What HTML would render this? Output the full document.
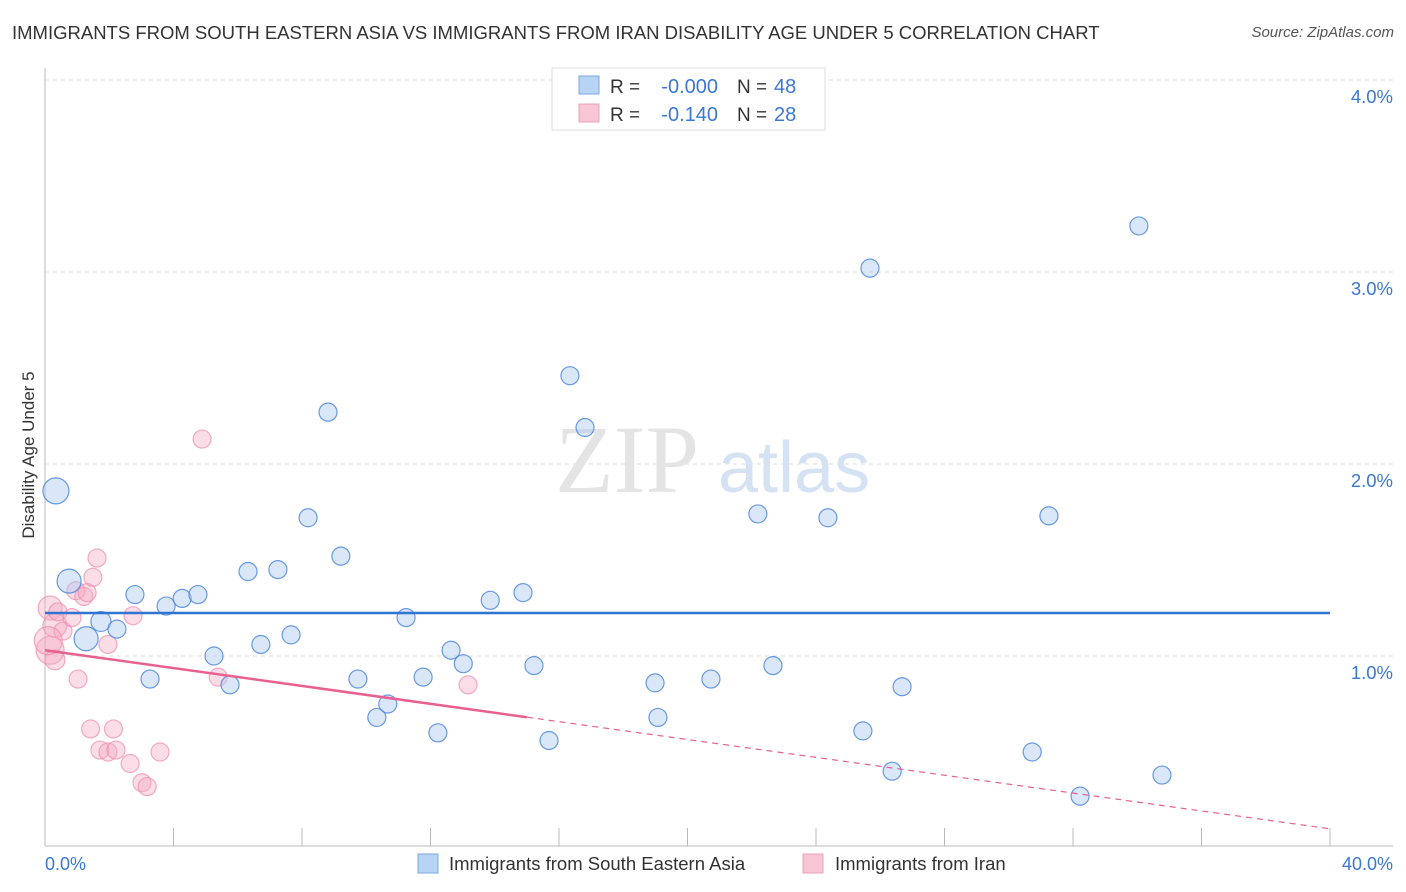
<!DOCTYPE html>
<html><head><meta charset="utf-8">
<style>
body{margin:0;background:#fff;font-family:"Liberation Sans",sans-serif;}
#wrap{position:relative;width:1406px;height:892px;overflow:hidden;}
.title{position:absolute;left:12px;top:22px;font-size:18.5px;color:#333;white-space:nowrap;}
.source{position:absolute;right:12px;top:24px;font-size:15px;color:#555;font-style:italic;}
</style></head><body>
<div id="wrap">
<div class="title">IMMIGRANTS FROM SOUTH EASTERN ASIA VS IMMIGRANTS FROM IRAN DISABILITY AGE UNDER 5 CORRELATION CHART</div>
<div class="source">Source: ZipAtlas.com</div>
<svg id="svg" width="1406" height="892" style="position:absolute;left:0;top:0">
<g id="grid"></g>
<text x="555" y="492" font-size="96" font-family="Liberation Serif" fill="#e4e4e4">ZIP</text>
<text x="718" y="492" font-size="72" fill="#d4e2f4">atlas</text>
<g id="pts"></g>
<g id="lines"></g>
<text transform="translate(34,455) rotate(-90)" text-anchor="middle" font-size="17" fill="#333">Disability Age Under 5</text>
<text x="45" y="870" font-size="18" fill="#3a78d4">0.0%</text>
<text x="1393" y="870" font-size="18" fill="#3a78d4" text-anchor="end">40.0%</text>
<g>
<rect x="552" y="68" width="273" height="62" fill="#fff" stroke="#ddd"/>
<rect x="579" y="76" width="20" height="18" fill="#b8d4f4" stroke="#7aa8e0"/>
<rect x="579" y="104" width="20" height="18" fill="#f8c6d4" stroke="#eea0b8"/>
<text x="610" y="93" font-size="19" fill="#333">R =</text>
<text x="718" y="93" font-size="20" fill="#3a78d4" text-anchor="end">-0.000</text>
<text x="737" y="93" font-size="19" fill="#333">N =</text>
<text x="774" y="93" font-size="20" fill="#3a78d4">48</text>
<text x="610" y="121" font-size="19" fill="#333">R =</text>
<text x="718" y="121" font-size="20" fill="#3a78d4" text-anchor="end">-0.140</text>
<text x="737" y="121" font-size="19" fill="#333">N =</text>
<text x="774" y="121" font-size="20" fill="#3a78d4">28</text>
</g>
<g>
<rect x="418" y="854" width="20" height="19" fill="#b8d4f4" stroke="#7aa8e0"/>
<text x="449" y="870" font-size="18.5" fill="#333">Immigrants from South Eastern Asia</text>
<rect x="803" y="854" width="20" height="19" fill="#f8c6d4" stroke="#eea0b8"/>
<text x="835" y="870" font-size="18.5" fill="#333">Immigrants from Iran</text>
</g>
</svg>
</div>
<script>
const yTicks=[1,2,3,4];
const yTickLabels=["1.0%","2.0%","3.0%","4.0%"];
const xTicks=[0,4,8,12,16,20,24,28,32,36,40];
const blueX=[0.34,0.75,1.74,1.28,2.24,2.80,3.77,4.27,4.76,3.27,5.26,5.76,6.32,6.72,7.25,7.66,8.19,8.81,9.21,9.74,10.33,10.67,11.24,11.77,12.23,12.64,13.02,13.86,14.88,15.22,15.69,16.34,16.81,18.99,19.08,20.73,22.19,22.66,24.37,25.46,25.68,26.37,26.68,30.73,31.25,32.22,34.05,34.77];
const blueY=[1.86,1.39,1.18,1.09,1.14,1.32,1.26,1.30,1.32,0.88,1.00,0.85,1.44,1.06,1.45,1.11,1.72,2.27,1.52,0.88,0.68,0.75,1.20,0.89,0.60,1.03,0.96,1.29,1.33,0.95,0.56,2.46,2.19,0.86,0.68,0.88,1.74,0.95,1.72,0.61,3.02,0.40,0.84,0.50,1.73,0.27,3.24,0.38];
const blueR=[13,12,10,12,9,9,9,9,9,9,9,9,9,9,9,9,9,9,9,9,9,9,9,9,9,9,9,9,9,9,9,9,9,9,9,9,9,9,9,9,9,9,9,9,9,9,9,9];
const pinkX=[0.16,0.31,0.16,0.31,0.40,0.56,0.84,0.96,1.21,1.31,1.49,1.62,1.96,1.03,2.74,4.89,5.39,13.17,1.42,2.13,1.71,1.96,2.21,2.65,3.02,3.18,3.58,0.10];
const pinkY=[1.25,1.16,1.03,0.98,1.23,1.13,1.20,1.34,1.31,1.33,1.41,1.51,1.06,0.88,1.21,2.13,0.89,0.85,0.62,0.62,0.51,0.50,0.51,0.44,0.34,0.32,0.50,1.08];
const pinkR=[12,12,14,10,9,9,9,9,9,9,9,9,9,9,9,9,9,9,9,9,9,9,9,9,9,9,9,14];
const blueTrend=[1.224,1.224];
const pinkTrend=[1.03,0.10];
const NS="http://www.w3.org/2000/svg";
const X=v=>45+v/40*1285, Y=v=>848-v*192;
function mk(tag,attrs,parent){const e=document.createElementNS(NS,tag);for(const k in attrs)e.setAttribute(k,attrs[k]);parent.appendChild(e);return e;}
const grid=document.getElementById('grid');
yTicks.forEach((t,i)=>{
 const l=mk('line',{x1:45,x2:1393,y1:Y(t),y2:Y(t),stroke:'#ddd','stroke-dasharray':'4,4'},grid);
 
 
 const tx=mk('text',{x:1393,y:Y(t)+23,'font-size':18.5,fill:'#3a78d4','text-anchor':'end'},grid);
 tx.textContent=yTickLabels[i];
 
 
});
const ax=mk('line',{x1:45,x2:45,y1:68,y2:846,stroke:'#bbb'},grid);


const bx=mk('line',{x1:45,x2:1393,y1:846,y2:846,stroke:'#bbb'},grid);


xTicks.forEach(t=>{
 const l=mk('line',{x1:X(t),x2:X(t),y1:828,y2:846,stroke:'#bbb'},grid);
 
 
});
const pts=document.getElementById('pts');
pinkX.forEach((v,i)=>{
 const c=mk('circle',{cx:X(v),cy:Y(pinkY[i]),r:pinkR[i],fill:'rgba(244,170,194,0.4)',stroke:'rgba(236,140,172,0.7)','stroke-width':1.2},pts);
 
 
});
blueX.forEach((v,i)=>{
 const c=mk('circle',{cx:X(v),cy:Y(blueY[i]),r:blueR[i],fill:'rgba(170,202,240,0.45)',stroke:'rgba(70,130,220,0.8)','stroke-width':1.2},pts);
 
 
});
const lines=document.getElementById('lines');
const bl=mk('line',{x1:X(0),x2:X(40),y1:Y(blueTrend[0]),y2:Y(blueTrend[1]),stroke:'#2f74d0','stroke-width':2.5},lines);


const py=x=>pinkTrend[0]+(pinkTrend[1]-pinkTrend[0])*x/40;
const ps=mk('line',{x1:X(0),x2:X(15),y1:Y(py(0)),y2:Y(py(15)),stroke:'#e8608e','stroke-width':2.5},lines);


const pd=mk('line',{x1:X(15),x2:X(40),y1:Y(py(15)),y2:Y(py(40)),stroke:'#e8608e','stroke-width':1.2,'stroke-dasharray':'6,5'},lines);


</script>
</body></html>
